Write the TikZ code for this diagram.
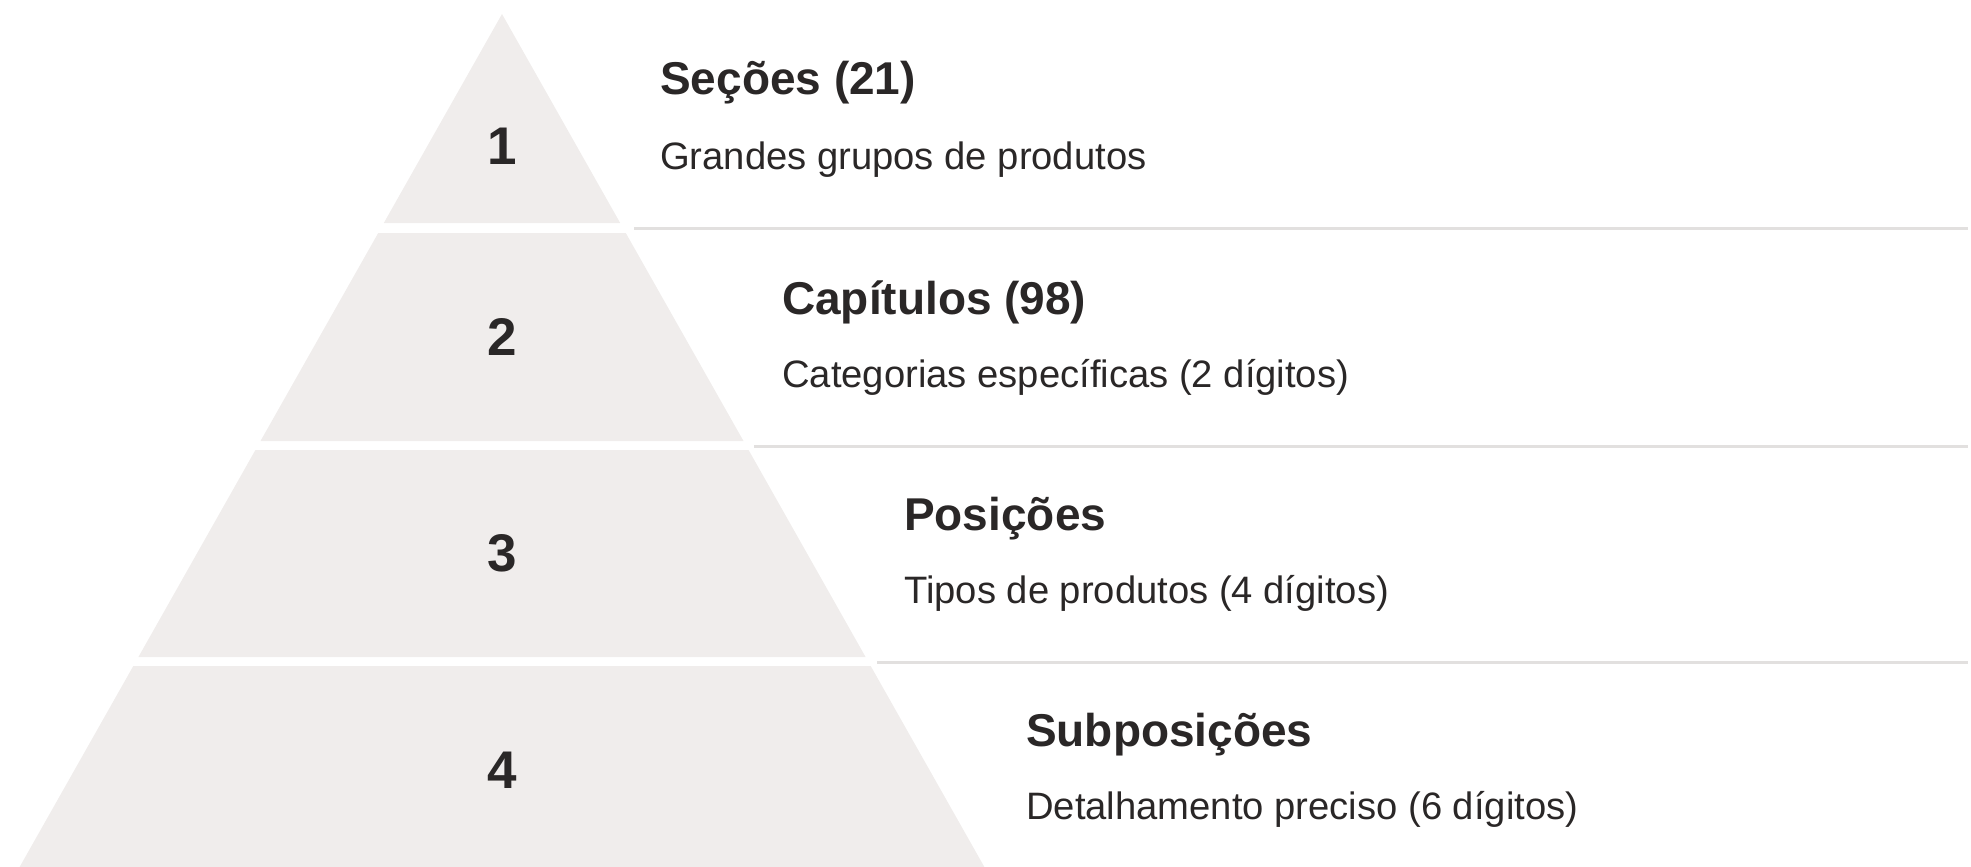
\documentclass[tikz,border=0pt]{standalone}
\usepackage{fontspec}
\setmainfont{Liberation Sans}
\definecolor{tierfill}{HTML}{F0EDEC}
\definecolor{sepcol}{HTML}{E2E0DF}
\definecolor{ink}{HTML}{2A2727}
\tikzset{
  tier/.style={fill=tierfill, draw=none},
  sepline/.style={draw=sepcol, line width=3pt},
  num/.style={anchor=base, inner sep=0pt, text=ink, font=\fontsize{53}{60}\selectfont\bfseries},
  ttl/.style={anchor=base west, inner sep=0pt, text=ink, font=\fontsize{46}{52}\selectfont\bfseries},
  sub/.style={anchor=base west, inner sep=0pt, text=ink, font=\fontsize{38.2}{44}\selectfont},
}
\begin{document}
\begin{tikzpicture}[x=1pt,y=-1pt]
\useasboundingbox (0,0) rectangle (1971,867);
% tiers
\fill[tier] (502,14) -- (620.2,223) -- (383.8,223) -- cycle;
\fill[tier] (378.2,233) -- (625.8,233) -- (743.5,441) -- (260.5,441) -- cycle;
\fill[tier] (255.4,450) -- (748.6,450) -- (865.6,657) -- (138.4,657) -- cycle;
\fill[tier] (133.3,666) -- (870.7,666) -- (984.4,867) -- (19.6,867) -- cycle;
% separators
\coordinate (s1a) at (634,228); \coordinate (s1b) at (1968,228);
\coordinate (s2a) at (754,446); \coordinate (s2b) at (1968,446);
\coordinate (s3a) at (877,662); \coordinate (s3b) at (1968,662);
\draw[sepline] (s1a) -- (s1b);
\draw[sepline] (s2a) -- (s2b);
\draw[sepline] (s3a) -- (s3b);
% numbers
\node[num] (n1) at (502,164) {1};
\node[num] (n2) at (502,355) {2};
\node[num] (n3) at (502,571) {3};
\node[num] (n4) at (502,788) {4};
% titles
\node[ttl] (t1) at (660,95) {Seções (21)};
\node[sub] (d1) at (660,169) {Grandes grupos de produtos};
\node[ttl] (t2) at (782,314) {Capítulos (98)};
\node[sub] (d2) at (782,387) {Categorias específicas (2 dígitos)};
\node[ttl] (t3) at (904,530) {Posições};
\node[sub] (d3) at (904,603) {Tipos de produtos (4 dígitos)};
\node[ttl] (t4) at (1026,746) {Subposições};
\node[sub] (d4) at (1026,819) {Detalhamento preciso (6 dígitos)};
\end{tikzpicture}
\end{document}
